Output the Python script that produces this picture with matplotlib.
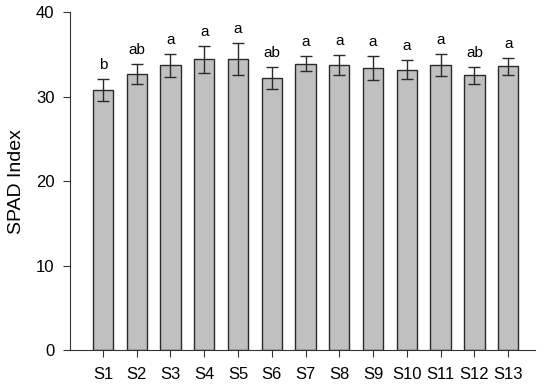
import numpy as np
import matplotlib
matplotlib.use('Agg')
import matplotlib.pyplot as plt

plt.rcParams['font.family'] = ['Liberation Sans', 'DejaVu Sans']

samples = ['S1', 'S2', 'S3', 'S4', 'S5', 'S6', 'S7', 'S8', 'S9', 'S10', 'S11', 'S12', 'S13']
spad = [30.8, 32.7, 33.7, 34.4, 34.5, 32.2, 33.9, 33.7, 33.4, 33.2, 33.7, 32.5, 33.6]
err = [1.3, 1.2, 1.4, 1.6, 1.9, 1.3, 0.9, 1.2, 1.4, 1.1, 1.3, 1.0, 1.0]
letters = ['b', 'ab', 'a', 'a', 'a', 'ab', 'a', 'a', 'a', 'a', 'a', 'ab', 'a']

fig = plt.figure(figsize=(5.5, 3.87), dpi=100)
ax = fig.add_axes([0.127, 0.0956, 0.846, 0.873])

x = np.arange(1, len(samples) + 1)
ax.bar(x, spad, width=0.6, color='#c0c0c0', edgecolor='#2b2b2b', linewidth=1.0,
       yerr=err, capsize=4.5, error_kw=dict(ecolor='#2b2b2b', elinewidth=1.0, capthick=1.0))

for xi, v, e, lab in zip(x, spad, err, letters):
    ax.annotate(lab, (xi, v + e), xytext=(0, 5), textcoords='offset points',
                ha='center', va='bottom', fontsize=11)

ax.set_xlim(0.02, 13.8)
ax.set_ylim(0, 40)
ax.set_yticks([0, 10, 20, 30, 40])
ax.set_xticks(x)
ax.set_xticklabels(samples)
ax.set_ylabel('SPAD Index', fontsize=14, labelpad=8)
ax.spines['top'].set_visible(False)
ax.spines['right'].set_visible(False)
for s in ['left', 'bottom']:
    ax.spines[s].set_color('#333333')
ax.tick_params(axis='both', direction='out', length=5, labelsize=12, color='#333333')
ax.tick_params(axis='y', pad=6)
ax.tick_params(axis='x', pad=7)

fig.savefig('out.png', dpi=100)
